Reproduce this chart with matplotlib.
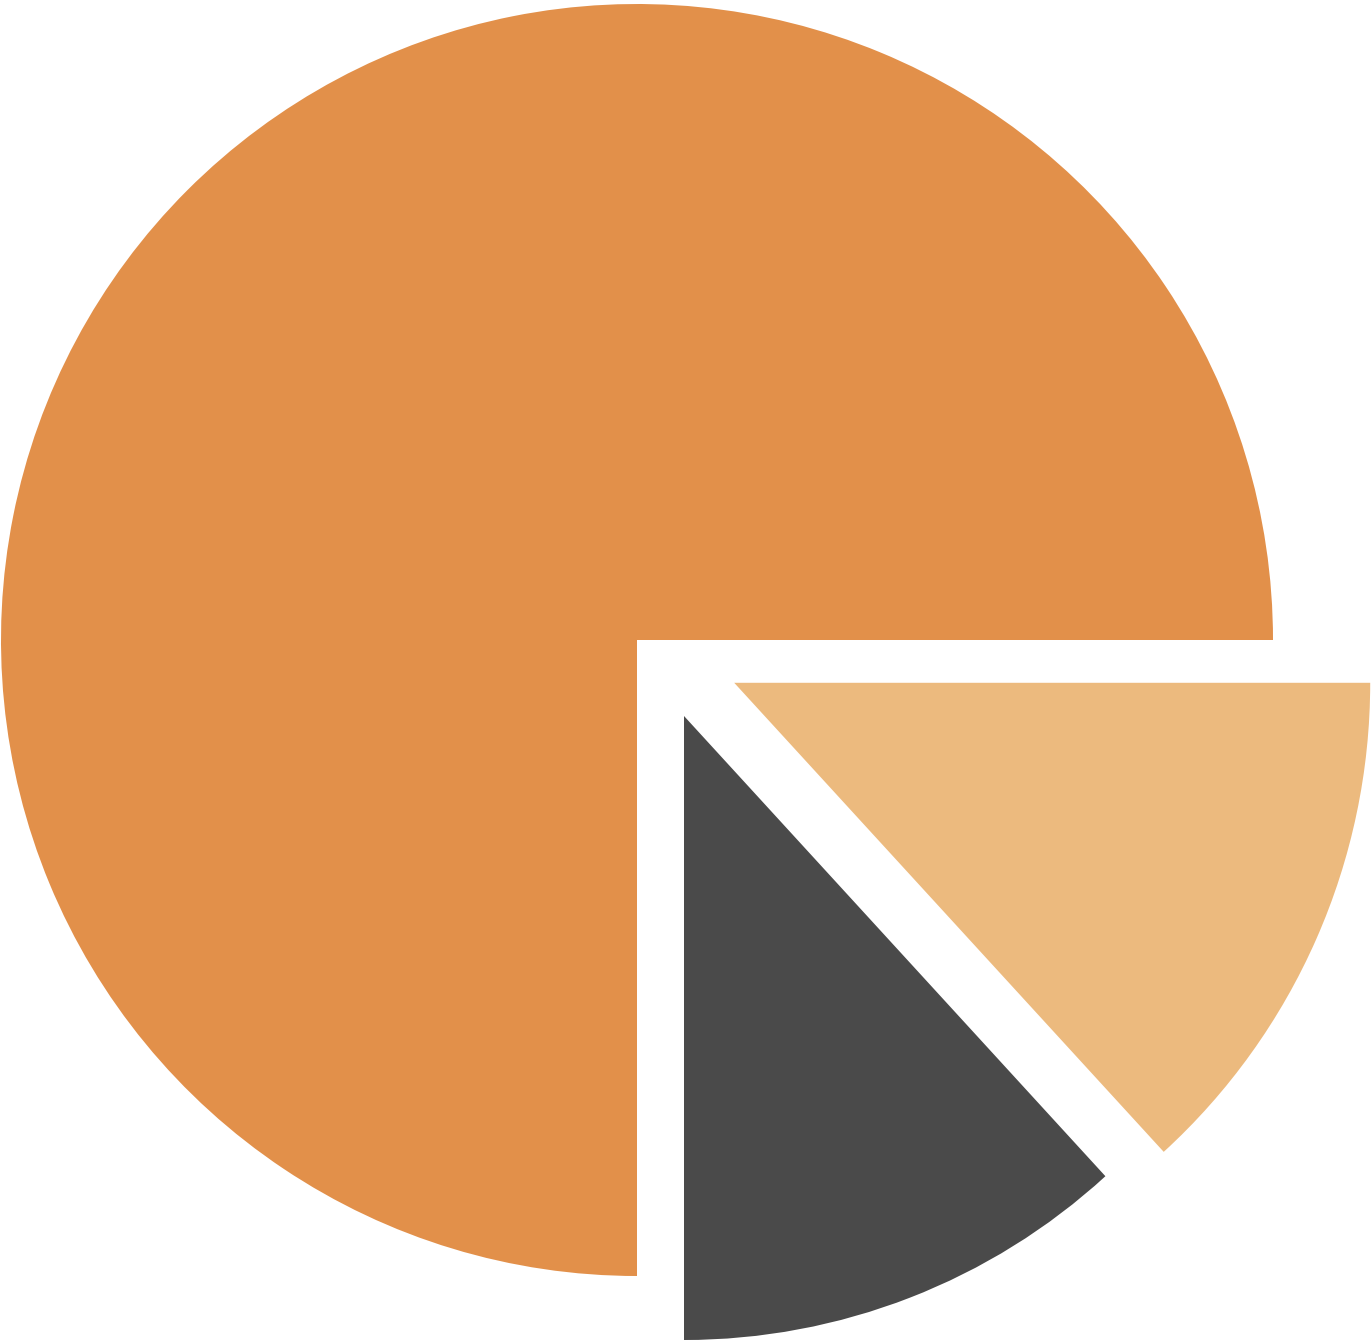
import matplotlib
matplotlib.use("Agg")
import matplotlib.pyplot as plt

# slice shares (percent), counter-clockwise from 3 o'clock
labels = ["Main", "Dark", "Light"]
shares = [75.0, 11.8, 13.2]
colors = ["#E2904A", "#4A4A4A", "#ECBA7E"]
explode = [0.0, 0.14, 0.167]

fig = plt.figure(figsize=(13.71, 13.41), dpi=100)
ax = fig.add_axes([0, 0, 1, 1])

wedges, _ = ax.pie(shares, explode=explode, colors=colors, startangle=0,
                   counterclock=True, radius=1.0,
                   wedgeprops=dict(linewidth=0))

# pie centre sits at about pixel (637, 640), radius ~636 px
r_px = 636.0
cx, cy = 637.0, 640.0

# the dark slice is pushed out a bit more to the right and is slightly smaller
wedges[1].set_center((47 / r_px, -76 / r_px))
wedges[1].set_radius(624 / r_px)

ax.set_xlim(-cx / r_px, (1371 - cx) / r_px)
ax.set_ylim(-(1341 - cy) / r_px, cy / r_px)
ax.set_aspect("equal")
ax.axis("off")

fig.savefig("out.png", dpi=100, facecolor="white")
